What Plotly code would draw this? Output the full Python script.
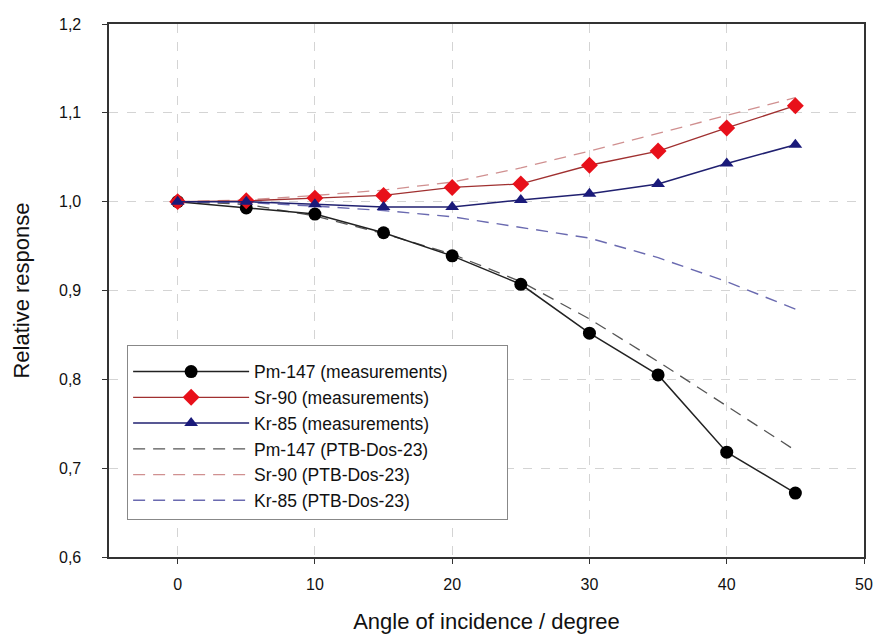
import plotly.graph_objects as go

angles = [0, 5, 10, 15, 20, 25, 30, 35, 40, 45]

pm_meas = [1.000, 0.993, 0.986, 0.965, 0.939, 0.907, 0.852, 0.805, 0.718, 0.672]
sr_meas = [1.000, 1.001, 1.004, 1.007, 1.016, 1.020, 1.041, 1.057, 1.083, 1.108]
kr_meas = [1.000, 1.000, 0.997, 0.994, 0.994, 1.002, 1.009, 1.020, 1.043, 1.064]

pm_ptb = [1.000, 0.997, 0.984, 0.964, 0.941, 0.910, 0.868, 0.820, 0.770, 0.720]
sr_ptb = [1.000, 1.002, 1.007, 1.013, 1.022, 1.038, 1.057, 1.077, 1.097, 1.117]
kr_ptb = [1.000, 0.999, 0.995, 0.990, 0.983, 0.971, 0.959, 0.937, 0.910, 0.879]

x_ticks = [0, 10, 20, 30, 40, 50]
y_ticks = [0.6, 0.7, 0.8, 0.9, 1.0, 1.1, 1.2]
y_tick_text = ["0,6", "0,7", "0,8", "0,9", "1,0", "1,1", "1,2"]

PAD = "\u00a0" * 11  # extra room on the right of the legend box
GAP = "<span style='color:white'>00</span>"  # invisible spacer between labels and axis

fig = go.Figure()

fig.add_trace(go.Scatter(x=angles, y=pm_ptb, mode="lines", name="Pm-147 (PTB-Dos-23)",
                         line=dict(color="#555555", width=1.3, dash="12px,8px")))
fig.add_trace(go.Scatter(x=angles, y=sr_ptb, mode="lines", name="Sr-90 (PTB-Dos-23)",
                         line=dict(color="#d09090", width=1.3, dash="12px,8px")))
fig.add_trace(go.Scatter(x=angles, y=kr_ptb, mode="lines", name="Kr-85 (PTB-Dos-23)",
                         line=dict(color="#6a6ab0", width=1.4, dash="12px,8px")))

fig.add_trace(go.Scatter(x=angles, y=pm_meas, mode="lines+markers",
                         name="Pm-147 (measurements)" + PAD,
                         line=dict(color="#222222", width=1.5),
                         marker=dict(symbol="circle", size=13, color="#000000")))
fig.add_trace(go.Scatter(x=angles, y=sr_meas, mode="lines+markers", name="Sr-90 (measurements)",
                         line=dict(color="#a03030", width=1.3),
                         marker=dict(symbol="diamond", size=13, color="#e8101a")))
fig.add_trace(go.Scatter(x=angles, y=kr_meas, mode="lines+markers", name="Kr-85 (measurements)",
                         line=dict(color="#202070", width=1.5),
                         marker=dict(symbol="triangle-up", size=12, color="#1a1a7a")))

order = [3, 4, 5, 0, 1, 2]
for rank, idx in enumerate(order):
    fig.data[idx].legendrank = rank + 1

fig.update_layout(
    width=895, height=638,
    margin=dict(l=101, r=39, t=16, b=89),
    paper_bgcolor="white", plot_bgcolor="white",
    font=dict(family="Liberation Sans, Arial, sans-serif", color="#111111", size=16),
    showlegend=True,
    legend=dict(x=0.024, y=0.398, xanchor="left", yanchor="top",
                bgcolor="white", bordercolor="#888888", borderwidth=1,
                font=dict(size=17.5), tracegroupgap=0, itemwidth=116,
                title=dict(text="\u00a0", font=dict(size=6))),
    xaxis=dict(range=[-5, 50], tickvals=x_ticks, ticks="outside", ticklen=5,
               tickcolor="#333333", showline=True, linecolor="#333333", linewidth=1.5,
               mirror=True, showgrid=True, gridcolor="#d4d4d4", griddash="dash",
               zeroline=False, tickfont=dict(size=16), ticklabelstandoff=7, automargin=False,
               title=dict(text="Angle of incidence / degree", font=dict(size=22), standoff=22)),
    yaxis=dict(range=[0.6, 1.2], tickvals=y_ticks,
               ticktext=[t + GAP for t in y_tick_text], ticks="outside",
               ticklen=5, tickcolor="#333333", showline=True, linecolor="#333333",
               linewidth=1.5, mirror=True, showgrid=True, gridcolor="#d4d4d4",
               griddash="dash", zeroline=False, tickfont=dict(size=16),
               automargin=False,
               title=dict(text="Relative response", font=dict(size=22), standoff=23)),
)

fig.write_html("out.html")
